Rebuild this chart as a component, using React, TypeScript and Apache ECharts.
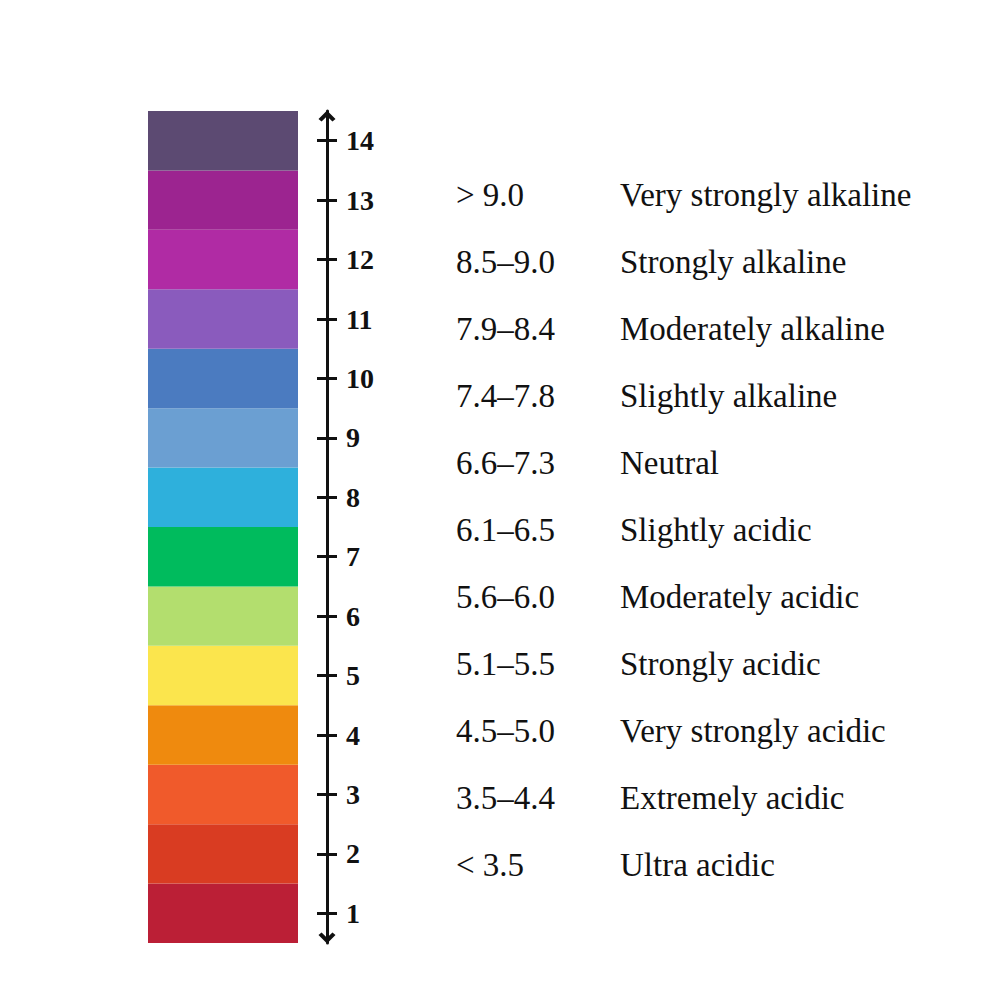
import React, { useEffect, useRef } from "react";
import * as echarts from "echarts";

// pH scale bands (bottom to top) and their colours
const phLevels = ["1", "2", "3", "4", "5", "6", "7", "8", "9", "10", "11", "12", "13", "14"];
const bandValues = [1, 1, 1, 1, 1, 1, 1, 1, 1, 1, 1, 1, 1, 1];
const bandColors = [
  "#bb1f36", "#d93c22", "#f05a2b", "#ef8a0e", "#fbe54d", "#b3de6e", "#00bb5d",
  "#2eb0dc", "#6b9fd2", "#4b7bc0", "#8a5bbd", "#b02ba4", "#9c2490", "#5c4a72",
];

// Soil pH classification table (top to bottom)
const phRanges = [
  "> 9.0", "8.5–9.0", "7.9–8.4", "7.4–7.8", "6.6–7.3", "6.1–6.5",
  "5.6–6.0", "5.1–5.5", "4.5–5.0", "3.5–4.4", "< 3.5",
];
const phClasses = [
  "Very strongly alkaline", "Strongly alkaline", "Moderately alkaline", "Slightly alkaline",
  "Neutral", "Slightly acidic", "Moderately acidic", "Strongly acidic",
  "Very strongly acidic", "Extremely acidic", "Ultra acidic",
];

const INK = "#111111";
const SERIF = "'Liberation Serif', 'Times New Roman', serif";
const CHEVRON = "path://M10,0 L20,10 L16.4,13.2 L10,7 L3.6,13.2 L0,10 Z";

export default function App() {
  const ref = useRef<HTMLDivElement>(null);

  useEffect(() => {
    if (!ref.current) return;
    const chart = echarts.init(ref.current, null, { renderer: "svg" });

    const rowIdx = phRanges.map((_, i) => i);

    const textLabel = (texts: string[]) => ({
      show: true,
      position: "right",
      distance: 0,
      color: INK,
      opacity: 1,
      fontFamily: SERIF,
      fontSize: 33,
      formatter: (p: any) => texts[p.dataIndex],
    });

    chart.setOption({
      animation: false,
      backgroundColor: "#ffffff",
      grid: [
        { left: 148, top: 111, width: 150, height: 832, outerBoundsMode: "none" },
        { left: 456, top: 161.5, width: 164, height: 737, outerBoundsMode: "none" },
      ],
      xAxis: [
        { gridIndex: 0, type: "value", min: 0, max: 1, show: false },
        { gridIndex: 1, type: "value", min: 0, max: 1, show: false },
      ],
      yAxis: [
        {
          gridIndex: 0,
          type: "category",
          data: phLevels,
          position: "right",
          offset: 29,
          boundaryGap: true,
          axisLine: {
            show: true,
            onZero: false,
            lineStyle: { color: INK, width: 3 },
            symbol: [CHEVRON, CHEVRON],
            symbolSize: [17, 12],
            symbolOffset: [5, -5],
          },
          axisTick: {
            show: true,
            alignWithLabel: true,
            inside: false,
            length: 10,
            lineStyle: { color: INK, width: 3 },
          },
          axisLabel: {
            show: true,
            margin: 19,
            color: INK,
            fontFamily: SERIF,
            fontWeight: "bold",
            fontSize: 28,
          },
          splitLine: { show: false },
        },
        {
          gridIndex: 0,
          type: "category",
          data: phLevels,
          position: "right",
          offset: 29,
          boundaryGap: true,
          axisLine: { show: false, onZero: false },
          axisTick: {
            show: true,
            alignWithLabel: true,
            inside: true,
            length: 10,
            lineStyle: { color: INK, width: 3 },
          },
          axisLabel: { show: false },
          splitLine: { show: false },
        },
        {
          gridIndex: 1,
          type: "category",
          data: rowIdx.map(String),
          inverse: true,
          show: false,
        },
      ],
      series: [
        {
          type: "bar",
          xAxisIndex: 0,
          yAxisIndex: 0,
          barCategoryGap: "0%",
          data: bandValues.map((v, i) => ({ value: v, itemStyle: { color: bandColors[i] } })),
        },
        {
          type: "scatter",
          xAxisIndex: 1,
          yAxisIndex: 2,
          symbolSize: 0,
          itemStyle: { opacity: 1 },
          data: rowIdx.map((i) => [0, i]),
          label: textLabel(phRanges),
        },
        {
          type: "scatter",
          xAxisIndex: 1,
          yAxisIndex: 2,
          symbolSize: 0,
          itemStyle: { opacity: 1 },
          data: rowIdx.map((i) => [1, i]),
          label: textLabel(phClasses),
        },
      ],
    });

    return () => chart.dispose();
  }, []);

  return (
    <div
      ref={ref}
      style={{ position: "fixed", left: 0, top: 0, width: 1000, height: 1000, background: "#fff" }}
    />
  );
}
